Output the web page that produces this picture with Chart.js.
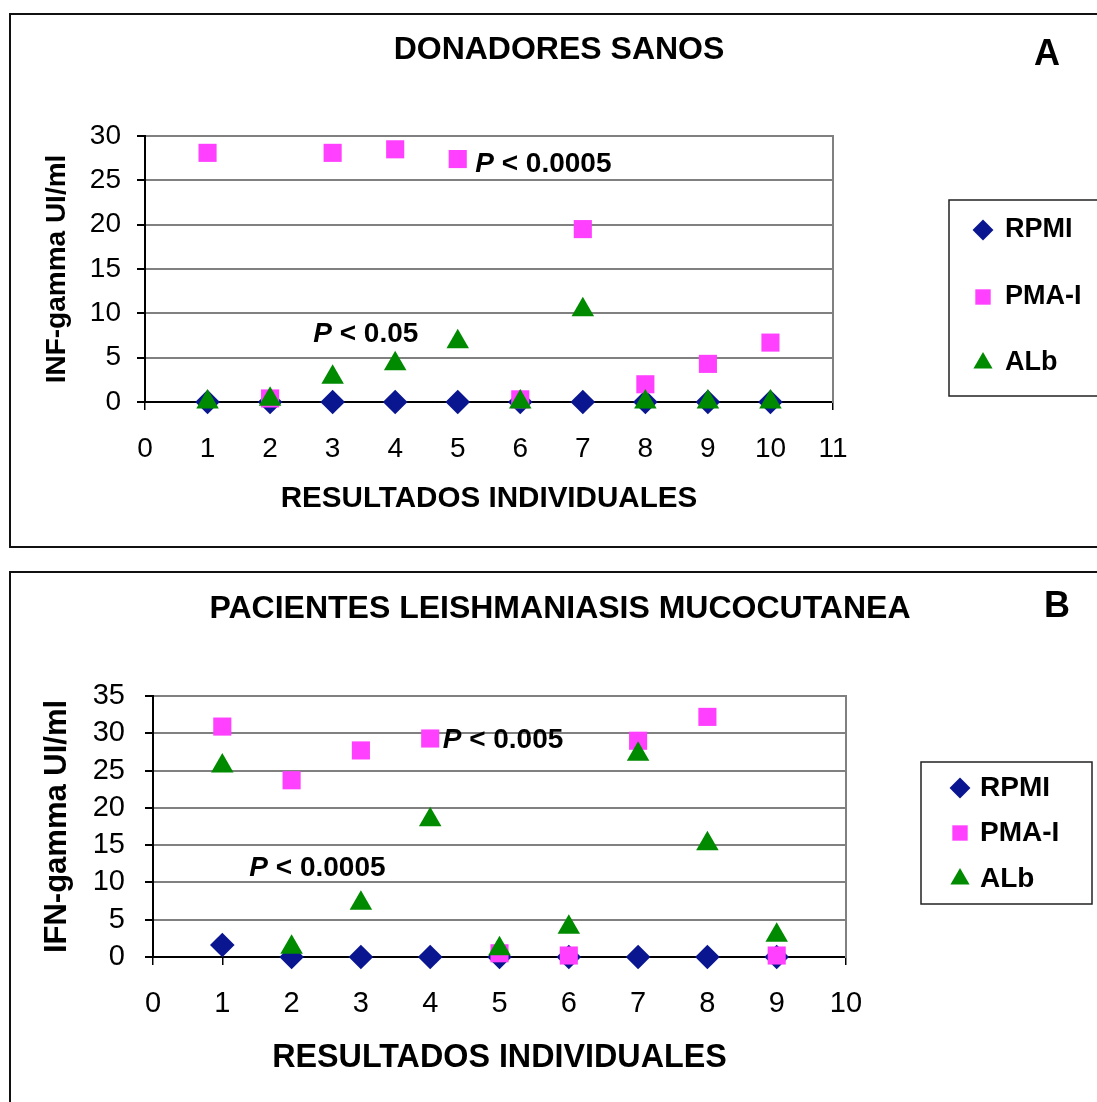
<!DOCTYPE html>
<html lang="es">
<head>
<meta charset="UTF-8">
<title>IFN-gamma: donadores sanos y pacientes</title>
<style>
    body { margin: 0; background: #fff; overflow: hidden; width: 1097px; height: 1102px; position: relative; }
    .panel { position: absolute; left: 9px; width: 1100px; border: 2px solid #111; background: #fff; }
    .panel canvas { display: block; }
</style>
</head>
<body>
<div class="panel" style="top:13px;height:531px"><canvas id="chartA" width="1086" height="531"></canvas></div>
<div class="panel" style="top:571px;height:540px"><canvas id="chartB" width="1086" height="529"></canvas></div>

<script src="https://cdn.jsdelivr.net/npm/chart.js"></script>
<script>
// ---- data ----
const seriesNames = ['RPMI', 'PMA-I', 'ALb'];

// A: donadores sanos
const subjectsA = [1, 2, 3, 4, 5, 6, 7, 8, 9, 10];
const rpmiA = [0, 0, 0, 0, 0, 0, 0, 0, 0, 0];
const pmaA  = [28.1, 0.4, 28.1, 28.5, 27.4, 0.3, 19.5, 2.0, 4.3, 6.7];
const albA  = [0, 0.3, 2.8, 4.3, 6.8, 0, 10.4, 0, 0, 0];
const yTicksA = { min: 0, max: 30, step: 5 };
const xTicksA = { min: 0, max: 11, step: 1 };

// B: pacientes leishmaniasis mucocutanea
const subjectsB = [1, 2, 3, 4, 5, 6, 7, 8, 9];
const rpmiB = [1.6, 0, 0, 0, 0, 0, 0, 0, 0];
const pmaB  = [30.9, 23.7, 27.7, 29.3, 0.5, 0.2, 29.0, 32.2, 0.2];
const albB  = [25.6, 1.3, 7.2, 18.4, 1.1, 4.0, 27.2, 15.2, 2.9];
const yTicksB = { min: 0, max: 35, step: 5 };
const xTicksB = { min: 0, max: 10, step: 1 };

const FONT = '"Liberation Sans", Arial, sans-serif';
Chart.defaults.font.family = FONT;
Chart.defaults.color = '#000';

const styles = [
    { color: '#0a168f', pointStyle: 'rectRot', radius: 12.3, order: 2 },
    { color: '#ff40ff', pointStyle: 'rect', radius: 12.8, order: 1 },
    { color: '#008a00', pointStyle: 'triangle', radius: 13, order: 0 }
];

function toPoints(xs, ys) {
    return xs.map((x, i) => ({ x: x, y: ys[i] }));
}

// marker shapes for the boxed legend
function drawShape(ctx, type, x, y, r) {
    ctx.beginPath();
    if (type === 'rectRot') {
        ctx.moveTo(x, y - r); ctx.lineTo(x + r, y); ctx.lineTo(x, y + r); ctx.lineTo(x - r, y);
    } else if (type === 'rect') {
        const h = r * Math.SQRT1_2;
        ctx.rect(x - h, y - h, 2 * h, 2 * h);
    } else {
        ctx.moveTo(x, y - r);
        ctx.lineTo(x + r * Math.sin(2 * Math.PI / 3), y - r * Math.cos(2 * Math.PI / 3));
        ctx.lineTo(x + r * Math.sin(4 * Math.PI / 3), y - r * Math.cos(4 * Math.PI / 3));
    }
    ctx.closePath();
    ctx.fill();
}

// panel letter, P-value notes and boxed legend
const extras = {
    id: 'extras',
    afterDraw(chart, args, o) {
        const ctx = chart.ctx;
        const xs = chart.scales.x, ys = chart.scales.y;
        ctx.save();
        ctx.fillStyle = '#000';
        ctx.textBaseline = 'middle';

        ctx.font = 'bold 36px ' + FONT;
        ctx.textAlign = 'center';
        ctx.fillText(o.letter, o.letterX, o.letterY);

        ctx.textAlign = 'left';
        o.notes.forEach(n => {
            let x = xs.getPixelForValue(n.x);
            const y = ys.getPixelForValue(n.y);
            ctx.font = 'italic bold ' + o.noteSize + 'px ' + FONT;
            ctx.fillText('P', x, y);
            x += ctx.measureText('P').width;
            ctx.font = 'bold ' + o.noteSize + 'px ' + FONT;
            ctx.fillText(' ' + n.text, x, y);
        });

        const lg = o.legend;
        ctx.strokeStyle = '#222';
        ctx.lineWidth = 1.5;
        ctx.strokeRect(lg.x, lg.y, lg.w, lg.h);
        ctx.font = 'bold ' + lg.size + 'px ' + FONT;
        chart.data.datasets.forEach((ds, i) => {
            ctx.fillStyle = ds.backgroundColor;
            drawShape(ctx, ds.pointStyle, lg.markerX, lg.rows[i], ds.pointRadius * 0.85);
            ctx.fillStyle = '#000';
            ctx.fillText(ds.label, lg.textX, lg.rows[i]);
        });
        ctx.restore();
    }
};

function makeChart(id, cfg) {
    const datasets = cfg.series.map((vals, i) => ({
        label: seriesNames[i],
        data: toPoints(cfg.subjects, vals),
        backgroundColor: styles[i].color,
        borderColor: styles[i].color,
        borderWidth: 0,
        pointStyle: styles[i].pointStyle,
        pointRadius: styles[i].radius,
        pointHoverRadius: styles[i].radius,
        order: styles[i].order,
        clip: false
    }));

    return new Chart(document.getElementById(id), {
        type: 'scatter',
        data: { datasets: datasets },
        plugins: [extras],
        options: {
            responsive: false,
            animation: false,
            events: [],
            layout: { padding: { left: cfg.padLeft, right: 0, top: 0, bottom: 0 } },
            plugins: {
                legend: { display: false },
                tooltip: { enabled: false },
                title: {
                    display: true,
                    text: cfg.title,
                    color: '#000',
                    font: { size: 32, weight: 'bold' },
                    padding: cfg.titlePad
                },
                extras: cfg.extras
            },
            scales: {
                x: {
                    type: 'linear',
                    min: cfg.xTicks.min,
                    max: cfg.xTicks.max,
                    afterFit: s => { s.height = cfg.xHeight; },
                    ticks: { stepSize: cfg.xTicks.step, autoSkip: false, font: { size: cfg.tickSize }, padding: cfg.xTickPad, color: '#000' },
                    grid: {
                        color: 'rgba(0,0,0,0)',
                        tickColor: '#000',
                        tickLength: 8,
                        lineWidth: 1.5
                    },
                    border: { color: '#000', width: 2 },
                    title: {
                        display: true,
                        text: 'RESULTADOS INDIVIDUALES',
                        color: '#000',
                        font: { size: cfg.xTitleSize, weight: 'bold' },
                        padding: { top: 0, bottom: cfg.xTitlePad }
                    }
                },
                y: {
                    type: 'linear',
                    position: 'left',
                    min: cfg.yTicks.min,
                    max: cfg.yTicks.max,
                    afterFit: s => { s.width = cfg.yWidth; },
                    ticks: { stepSize: cfg.yTicks.step, autoSkip: false, font: { size: cfg.tickSize }, padding: cfg.yTickPad, color: '#000' },
                    grid: {
                        color: '#808080',
                        tickColor: '#000',
                        tickLength: 8,
                        lineWidth: 2
                    },
                    border: { color: '#000', width: 2 },
                    title: {
                        display: true,
                        text: cfg.yTitle,
                        color: '#000',
                        font: { size: cfg.yTitleSize, weight: 'bold' },
                        padding: { top: cfg.yTitlePad, bottom: 0 }
                    }
                },
                // empty right axis: reserves room for the legend and draws the plot's right edge
                side: {
                    type: 'linear',
                    axis: 'y',
                    position: 'right',
                    afterFit: s => { s.width = cfg.sideWidth; },
                    ticks: { display: false },
                    grid: { display: false },
                    border: { color: '#808080', width: 2 }
                }
            }
        }
    });
}

makeChart('chartA', {
    title: 'DONADORES SANOS',
    subjects: subjectsA,
    series: [rpmiA, pmaA, albA],
    xTicks: xTicksA, yTicks: yTicksA,
    yTitle: 'INF-gamma UI/ml',
    padLeft: 10, yWidth: 124, sideWidth: 264, xHeight: 144,
    titlePad: { top: 15.8, bottom: 66.8 },
    tickSize: 28, xTickPad: 22, yTickPad: 16,
    xTitleSize: 29.6, xTitlePad: 29,
    yTitleSize: 28, yTitlePad: 19,
    extras: {
        letter: 'A', letterX: 1036, letterY: 40,
        noteSize: 28,
        notes: [
            { x: 5.28, y: 26.8, text: '< 0.0005' },
            { x: 2.69, y: 7.6, text: '< 0.05' }
        ],
        legend: { x: 938, y: 185, w: 160, h: 196, rows: [215, 282, 348], markerX: 972, textX: 994, size: 27 }
    }
});

makeChart('chartB', {
    title: 'PACIENTES LEISHMANIASIS MUCOCUTANEA',
    subjects: subjectsB,
    series: [rpmiB, pmaB, albB],
    xTicks: xTicksB, yTicks: yTicksB,
    yTitle: 'IFN-gamma UI/ml',
    padLeft: 12, yWidth: 130, sideWidth: 251, xHeight: 145,
    titlePad: { top: 16.8, bottom: 67.8 },
    tickSize: 29, xTickPad: 22, yTickPad: 20,
    xTitleSize: 32.3, xTitlePad: 25,
    yTitleSize: 31, yTitlePad: 16,
    extras: {
        letter: 'B', letterX: 1046, letterY: 34,
        noteSize: 28,
        notes: [
            { x: 4.18, y: 29.0, text: '< 0.005' },
            { x: 1.39, y: 11.9, text: '< 0.0005' }
        ],
        legend: { x: 910, y: 189, w: 171, h: 142, rows: [215, 260, 306], markerX: 949, textX: 969, size: 28 }
    }
});
</script>
</body>
</html>
